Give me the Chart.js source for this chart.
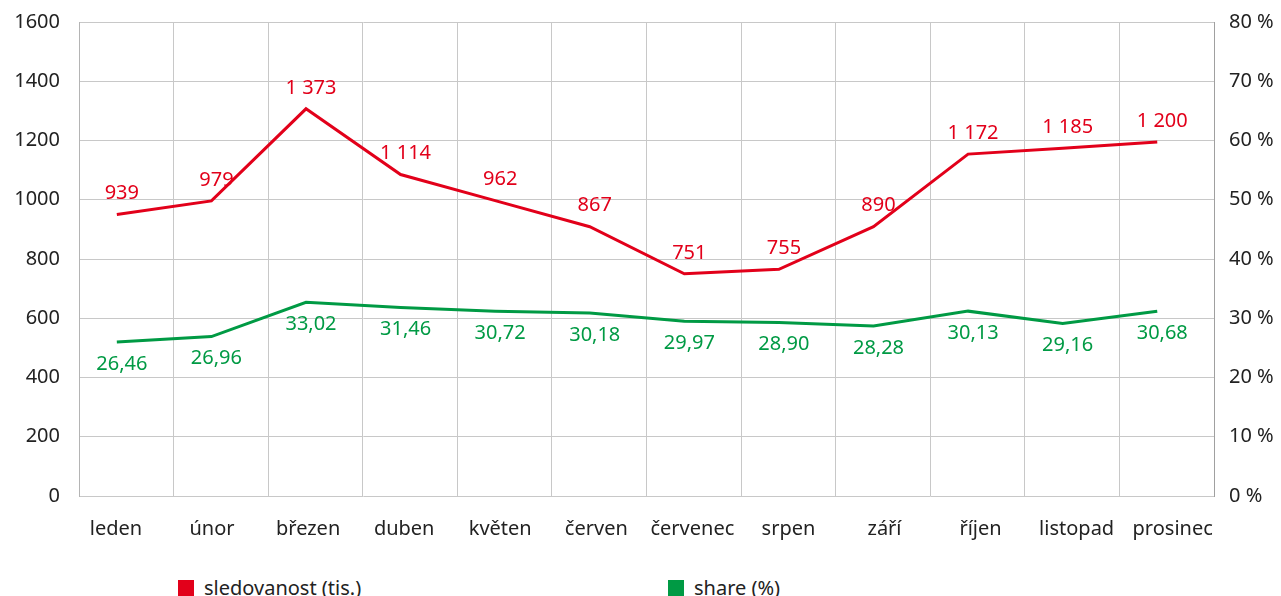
<!DOCTYPE html>
<html>
<head>
<meta charset="utf-8">
<script src="https://cdn.jsdelivr.net/npm/chart.js@4"></script>
<style>
  body { margin: 0; background: #fff; overflow: hidden; font-family: "Noto Sans", sans-serif; }
  #wrap { position: relative; width: 1281px; height: 596px; overflow: hidden; }
  #myChart { position: absolute; top: -9px; left: 0; }
  #legend { position: absolute; top: 574px; left: 0; width: 1281px; font-size: 20px; color: #222; }
  .item { position: absolute; white-space: nowrap; }
  .box { display: inline-block; width: 16px; height: 16px; vertical-align: -1px; margin-right: 10px; }
</style>
</head>
<body>
<div id="wrap">
  <canvas id="myChart" width="1281" height="555"></canvas>
  <div id="legend"></div>
</div>
<script>
// data
var months = ['leden', 'únor', 'březen', 'duben', 'květen', 'červen', 'červenec', 'srpen', 'září', 'říjen', 'listopad', 'prosinec'];
var viewers = [950, 996, 1307, 1085, 997, 909, 750, 765, 909, 1154, 1174, 1195];
var viewersLabels = ['939', '979', '1 373', '1 114', '962', '867', '751', '755', '890', '1 172', '1 185', '1 200'];
var share = [26.0, 26.9, 32.7, 31.8, 31.2, 30.9, 29.5, 29.3, 28.7, 31.2, 29.1, 31.2];
var shareLabels = ['26,46', '26,96', '33,02', '31,46', '30,72', '30,18', '29,97', '28,90', '28,28', '30,13', '29,16', '30,68'];
var leftTicks = [0, 1600, 200];
var rightTicks = [0, 80, 10];

var red = '#e2001a';
var green = '#009a44';
var font = '"Noto Sans", sans-serif';

// value labels next to each point
var valueLabels = {
    id: 'valueLabels',
    afterDatasetsDraw: function (chart) {
        var ctx = chart.ctx;
        ctx.save();
        ctx.font = '20px ' + font;
        ctx.textAlign = 'center';
        ctx.textBaseline = 'middle';
        chart.data.datasets.forEach(function (ds, d) {
            var meta = chart.getDatasetMeta(d);
            ctx.fillStyle = ds.borderColor;
            meta.data.forEach(function (pt, i) {
                var dy = d == 0 ? -21 : 22;
                ctx.fillText(ds.valueText[i], pt.x + 5, pt.y + dy);
            });
        });
        ctx.restore();
    }
};

function pts(arr) {
    return arr.map(function (v, i) { return { x: i, y: v }; });
}

var ctx = document.getElementById('myChart').getContext('2d');
var myChart = new Chart(ctx, {
    type: 'line',
    data: {
        datasets: [{
            label: 'sledovanost (tis.)',
            data: pts(viewers),
            valueText: viewersLabels,
            borderColor: red,
            backgroundColor: red,
            borderWidth: 3,
            pointRadius: 0,
            tension: 0,
            xAxisID: 'x2',
            yAxisID: 'y'
        }, {
            label: 'share (%)',
            data: pts(share),
            valueText: shareLabels,
            borderColor: green,
            backgroundColor: green,
            borderWidth: 3,
            pointRadius: 0,
            tension: 0,
            xAxisID: 'x2',
            yAxisID: 'y1'
        }]
    },
    options: {
        responsive: false,
        animation: false,
        devicePixelRatio: 1,
        layout: { padding: 0 },
        plugins: {
            legend: { display: false },
            tooltip: { enabled: false }
        },
        scales: {
            // grid columns
            xg: {
                type: 'linear',
                position: 'bottom',
                min: 0,
                max: 12,
                ticks: { display: false, stepSize: 1 },
                grid: { color: '#c8c8c8', lineWidth: 1, drawTicks: false },
                border: { display: false }
            },
            // month names
            xl: {
                type: 'linear',
                position: 'bottom',
                min: -0.385,
                max: 11.43,
                afterBuildTicks: function (s) {
                    s.ticks = months.map(function (m, i) { return { value: i }; });
                },
                afterFit: function (s) { s.height = 50; },
                ticks: {
                    color: '#222',
                    font: { family: font, size: 20 },
                    padding: 13,
                    maxRotation: 0,
                    autoSkip: false,
                    callback: function (v) { return months[v]; }
                },
                grid: { display: false },
                border: { display: false }
            },
            // where the lines sit
            x2: {
                type: 'linear',
                display: false,
                min: -0.4,
                max: 11.6
            },
            y: {
                position: 'left',
                min: leftTicks[0],
                max: leftTicks[1],
                afterFit: function (s) { s.width = 79; },
                ticks: {
                    stepSize: leftTicks[2],
                    color: '#222',
                    padding: 19,
                    font: { family: font, size: 20 },
                    callback: function (v) { return String(v); }
                },
                grid: { color: '#c8c8c8', drawTicks: false },
                border: { color: '#b4b4b4' }
            },
            y1: {
                position: 'right',
                min: rightTicks[0],
                max: rightTicks[1],
                afterFit: function (s) { s.width = 67; },
                ticks: {
                    stepSize: rightTicks[2],
                    color: '#222',
                    padding: 15,
                    font: { family: font, size: 20 },
                    callback: function (v) { return v + ' %'; }
                },
                grid: { drawOnChartArea: false, drawTicks: false },
                border: { color: '#a0a0a0' }
            }
        }
    },
    plugins: [valueLabels]
});

// legend under the chart
var legend = document.getElementById('legend');
var legendX = [178, 668];
myChart.data.datasets.forEach(function (ds, i) {
    var item = document.createElement('div');
    item.className = 'item';
    item.style.left = legendX[i] + 'px';
    item.innerHTML = '<span class="box" style="background:' + ds.borderColor + '"></span>' + ds.label;
    legend.appendChild(item);
});
</script>
</body>
</html>
